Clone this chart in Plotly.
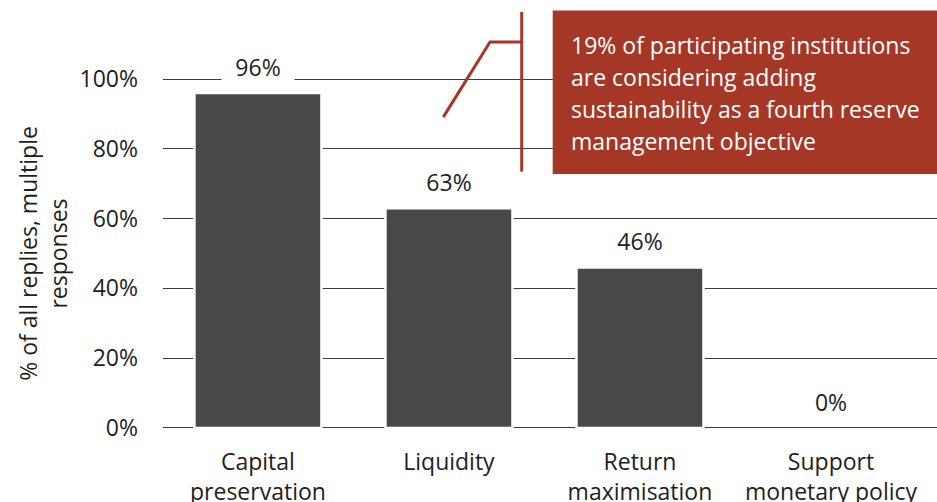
import plotly.graph_objects as go

# ---- data ----
categories = ["Capital<br>preservation", "Liquidity", "Return<br>maximisation", "Support<br>monetary policy"]
values = [96, 63, 46, 0]
value_labels = ["96%", "63%", "46%", "0%"]
y_ticks = [0, 20, 40, 60, 80, 100]
y_tick_labels = ["0%", "20%", "40%", "60%", "80%", "100%"]
callout_lines = [
    "19% of participating institutions",
    "are considering adding",
    "sustainability as a fourth reserve",
    "management objective",
]

W, H = 937, 502
Y0_PX, Y100_PX = 427.7, 79.3            # pixel rows of 0% and 100%
PPU = (Y0_PX - Y100_PX) / 100.0
PAD = 0.6                               # keep the 0%/100% gridlines off the plot edges
PT = Y100_PX - PAD * PPU
PB = Y0_PX + PAD * PPU
PL, PR = 163, 937
PW, PH = PR - PL, PB - PT


def px_x(px):
    return (px - PL) / PW


def px_y(py):
    return (PB - py) / PH


FONT = "Open Sans, Noto Sans, sans-serif"
RED = "#a53727"
BAR = "#47484a"
TXT = "#1e1e1e"

fig = go.Figure()
fig.add_trace(go.Bar(
    x=categories, y=values,
    marker=dict(color=BAR,
                line=dict(color="white", width=[2.5 if v > 0 else 0 for v in values])),
    hoverinfo="skip", showlegend=False,
))

for c, v, lab in zip(categories, values, value_labels):
    fig.add_annotation(x=c, y=v, text=lab, showarrow=False, yanchor="middle",
                       yshift=26, bgcolor="white", borderpad=3, width=66,
                       font=dict(family=FONT, size=23, color=TXT))

# callout box and connector
fig.add_shape(type="rect", xref="paper", yref="paper",
              x0=px_x(552.7), x1=1.02, y0=px_y(174), y1=px_y(10.7),
              fillcolor=RED, line=dict(width=0), layer="above")
fig.add_shape(type="line", xref="paper", yref="paper",
              x0=px_x(521.7), x1=px_x(521.7), y0=px_y(12.3), y1=px_y(171.7),
              line=dict(color=RED, width=3))
fig.add_shape(type="path", xref="paper", yref="paper",
              path="M {:.4f},{:.4f} L {:.4f},{:.4f} L {:.4f},{:.4f}".format(
                  px_x(443.3), px_y(117.3), px_x(490), px_y(42.3), px_x(521.7), px_y(42.3)),
              line=dict(color=RED, width=3))
for i, line in enumerate(callout_lines):
    fig.add_annotation(xref="paper", yref="paper", x=px_x(569), y=px_y(45 + 32 * i),
                       text=line, showarrow=False, xanchor="left", yanchor="middle",
                       align="left", font=dict(family=FONT, size=23, color="white"))

fig.update_layout(
    width=W, height=H,
    margin=dict(l=PL, r=W - PR, t=PT, b=H - PB, autoexpand=False),
    paper_bgcolor="white", plot_bgcolor="white",
    bargap=0.335,
    font=dict(family=FONT, size=23, color=TXT),
    xaxis=dict(range=[-0.497, 3.555], showgrid=False, zeroline=False, showline=False,
               ticks="", ticklabelstandoff=16, tickfont=dict(family=FONT, size=23, color=TXT),
               fixedrange=True),
    yaxis=dict(range=[-PAD, 100 + PAD], tickvals=y_ticks, ticktext=y_tick_labels,
               showgrid=True, gridcolor="#3c3c3c", gridwidth=1,
               zeroline=False, showline=False, ticks="", ticklabelstandoff=24,
               tickfont=dict(family=FONT, size=23, color=TXT),
               title=dict(text="% of all replies, multiple<br>responses", standoff=5,
                          font=dict(family=FONT, size=23, color=TXT)),
               fixedrange=True),
)

fig.write_html("out.html", config={"displayModeBar": False, "staticPlot": True},
               post_script="document.body.style.margin='0';document.body.style.overflow='hidden';")
